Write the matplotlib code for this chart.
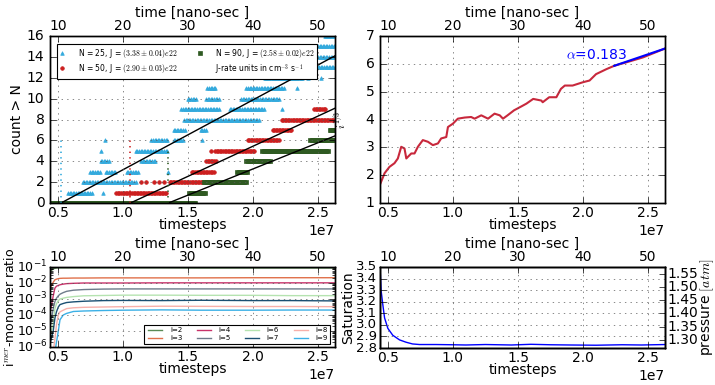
import numpy as np
import matplotlib
matplotlib.use('Agg')
import matplotlib.pyplot as plt

plt.style.use('classic')
plt.rcParams['font.size'] = 10
plt.rcParams['savefig.facecolor'] = 'white'
plt.rcParams['figure.facecolor'] = 'white'

# ---- data: top-left, runs of cluster counts (t_start, t_end, count), t in 1e7 timesteps
runs_25 = [(0.44, 0.66, 0), (0.58, 0.77, 1), (0.85, 0.86, 1), (0.69, 1.10, 2),
           (0.75, 0.83, 3), (0.87, 0.95, 3), (1.03, 1.12, 3), (1.35, 1.36, 3),
           (0.83, 0.90, 4), (1.14, 1.25, 4), (0.83, 0.84, 5), (1.10, 1.35, 5),
           (0.86, 0.87, 6), (1.22, 1.35, 6), (1.39, 1.47, 6), (1.61, 1.62, 6),
           (1.39, 1.48, 7), (1.60, 1.64, 7), (1.47, 2.05, 8),
           (1.45, 1.74, 9), (1.82, 2.09, 9), (2.22, 2.23, 9),
           (1.50, 1.57, 10), (1.64, 1.74, 10), (1.91, 2.20, 10),
           (1.65, 1.72, 11), (1.95, 2.24, 11), (2.34, 2.35, 11),
           (2.09, 2.38, 12), (2.42, 2.43, 12), (2.52, 2.53, 12),
           (2.09, 2.63, 13), (2.50, 2.63, 14), (2.50, 2.63, 15), (2.55, 2.63, 16)]
runs_50 = [(0.95, 1.34, 1), (1.14, 1.15, 2), (1.18, 1.19, 2), (1.24, 1.25, 2),
           (1.28, 1.29, 2), (1.32, 1.33, 2), (1.36, 1.62, 2), (1.53, 1.70, 3),
           (1.64, 1.72, 4), (1.68, 1.69, 5), (1.71, 2.01, 5), (1.96, 2.21, 6),
           (2.15, 2.30, 7), (2.22, 2.63, 8), (2.47, 2.56, 9)]
runs_90 = [(0.44, 1.56, 0), (1.51, 1.64, 1), (1.62, 1.95, 2), (1.88, 1.96, 3),
           (1.95, 2.14, 4), (2.07, 2.58, 5), (2.44, 2.63, 6), (2.59, 2.63, 7)]
fit_start = [0.525, 1.058, 1.35]
fit_end_count = [14.1, 9.08, 6.43]
lag_height = [6, 6, 5]
labels_top = ['N = 25, J = $(3.38 \\pm 0.04) e22$',
              'N = 50, J = $(2.90 \\pm 0.03) e22$',
              'N = 90, J = $(2.58 \\pm 0.02) e22$']

# ---- data: top-right, i^(1/3) vs timesteps
t_i = [0.444, 0.475, 0.513, 0.551, 0.577, 0.603, 0.628, 0.642, 0.68, 0.705, 0.731,
       0.769, 0.808, 0.846, 0.885, 0.91, 0.949, 0.962, 1.0, 1.038, 1.09, 1.14,
       1.167, 1.218, 1.27, 1.32, 1.36, 1.385, 1.42, 1.47, 1.526, 1.565, 1.617,
       1.68, 1.69, 1.74, 1.795, 1.83, 1.86, 1.92, 2.0, 2.05, 2.10, 2.18, 2.24,
       2.33, 2.46, 2.63]
i_third = [1.71, 2.07, 2.30, 2.43, 2.60, 3.02, 2.96, 2.60, 2.78, 2.78, 3.02,
           3.26, 3.20, 3.08, 3.14, 3.32, 3.37, 3.73, 3.85, 4.03, 4.07, 4.09,
           4.03, 4.15, 4.03, 4.21, 4.15, 4.03, 4.15, 4.33, 4.47, 4.57, 4.74,
           4.68, 4.62, 4.80, 4.80, 5.10, 5.22, 5.22, 5.34, 5.40, 5.63, 5.81, 5.93,
           6.05, 6.23, 6.55]
fit_t = [2.24, 2.63]
fit_i = [5.93, 6.55]

# ---- data: bottom-left, log10 of i-mer / monomer ratio
t_r = [0.44, 0.465, 0.478, 0.49, 0.504, 0.517, 0.542, 0.568, 0.62, 0.7, 0.85,
       1.0, 1.3, 1.6, 2.0, 2.3, 2.63]
lr2 = [-1.28, -1.12, -1.08, -1.06, -1.05, -1.05, -1.05, -1.05, -1.05, -1.05, -1.05,
       -1.05, -1.05, -1.06, -1.06, -1.06, -1.06]
lr3 = [-2.33, -1.95, -1.80, -1.76, -1.73, -1.71, -1.70, -1.70, -1.69, -1.69, -1.68,
       -1.68, -1.68, -1.68, -1.67, -1.67, -1.67]
lr4 = [-3.89, -2.80, -2.32, -2.20, -2.15, -2.11, -2.07, -2.04, -2.02, -2.00, -2.00,
       -2.00, -1.99, -1.99, -1.99, -1.99, -1.99]
lr5 = [-4.8, -3.6, -3.16, -2.95, -2.80, -2.70, -2.60, -2.52, -2.45, -2.41, -2.38,
       -2.37, -2.37, -2.37, -2.37, -2.37, -2.37]
lr6 = [-5.5, -4.5, -3.6, -3.3, -3.1, -3.0, -2.95, -2.90, -2.85, -2.80, -2.78,
       -2.76, -2.76, -2.77, -2.77, -2.79, -2.79]
lr7 = [-5.8, -5.0, -4.2, -3.8, -3.5, -3.35, -3.28, -3.22, -3.18, -3.14, -3.10,
       -3.09, -3.10, -3.08, -3.10, -3.10, -3.12]
lr8 = [-6.5, -6.3, -5.5, -4.6, -4.0, -3.8, -3.7, -3.60, -3.55, -3.52, -3.50,
       -3.48, -3.45, -3.46, -3.47, -3.47, -3.48]
lr9 = [-6.5, -6.5, -6.3, -5.7, -5.0, -4.3, -4.0, -3.90, -3.78, -3.75, -3.72,
       -3.70, -3.68, -3.70, -3.70, -3.69, -3.69]
ratio_logs = [lr2, lr3, lr4, lr5, lr6, lr7, lr8, lr9]
ratio_names = ['i=2', 'i=3', 'i=4', 'i=5', 'i=6', 'i=7', 'i=8', 'i=9']
ratio_colors = ['#5a8a55', '#e0704a', '#c8336a', '#6e7b8b',
                '#b5e3b0', '#1b4f72', '#f7b0aa', '#3bb0e6']

# ---- data: bottom-right, saturation
t_s = [0.44, 0.449, 0.462, 0.475, 0.5, 0.538, 0.59, 0.64, 0.69, 0.744, 0.87,
       1.0, 1.1, 1.25, 1.45, 1.6, 1.75, 1.9, 2.1, 2.3, 2.45, 2.63]
sat = [3.50, 3.29, 3.17, 3.06, 2.97, 2.91, 2.87, 2.85, 2.835, 2.83, 2.83,
       2.828, 2.826, 2.83, 2.826, 2.832, 2.828, 2.826, 2.824, 2.828, 2.826, 2.83]

xlo, xhi = 0.44e7, 2.63e7
ns_per_step = 2e-6

fig = plt.figure(figsize=(7.15, 3.85), dpi=100)
ax1 = fig.add_axes([0.0699, 0.4727, 0.3986, 0.4338])
ax2 = fig.add_axes([0.5315, 0.4727, 0.3986, 0.4338])
ax3 = fig.add_axes([0.0699, 0.0987, 0.3986, 0.2078])
ax4 = fig.add_axes([0.5315, 0.0961, 0.3986, 0.2104])


def top_axis(ax):
    axt = ax.twiny()
    axt.set_xlim(xlo * ns_per_step, xhi * ns_per_step)
    axt.set_xticks([10, 20, 30, 40, 50])
    axt.set_xlabel('time [nano-sec ]', fontsize=10, labelpad=2)
    axt.tick_params(labelsize=10, pad=2)
    return axt


def bottom_axis(ax):
    ax.set_xlim(xlo, xhi)
    ax.set_xticks([0.5e7, 1.0e7, 1.5e7, 2.0e7, 2.5e7])
    ax.set_xlabel('timesteps', fontsize=10, labelpad=-1)
    ax.tick_params(axis='x', pad=2)
    ax.grid(True, color='0.35')


# top-left
styles = [('^', '#33aadd'), ('o', '#cc1f1f'), ('s', '#2f5a22')]
handles = []
for runs, (mk, col), lab in zip([runs_25, runs_50, runs_90], styles, labels_top):
    xs, ys = [], []
    for t0, t1, c in runs:
        pts = np.arange(t0, t1 + 1e-9, 0.012)
        xs.extend(pts * 1e7)
        ys.extend([c] * len(pts))
    h, = ax1.plot(xs, ys, ls='none', marker=mk, ms=2.6, mfc=col, mec=col, label=lab)
    handles.append(h)
for (mk, col), t0, c1, hgt in zip(styles, fit_start, fit_end_count, lag_height):
    ax1.plot([t0 * 1e7, xhi], [0, c1], color='k', lw=1)
    ax1.vlines(t0 * 1e7, 0, hgt, colors=col, linestyles=':', lw=1.2)
dummy, = ax1.plot([], [], ls='none', label='J-rate units in cm$^{-3}$ s$^{-1}$')
handles.append(dummy)
leg = ax1.legend(handles=handles, loc='upper left', ncol=2, fontsize=5.5, numpoints=1,
                 handlelength=0.8, handletextpad=1.6, borderpad=0.35,
                 labelspacing=0.3, columnspacing=2.6, bbox_to_anchor=(0.01, 0.975))
leg.get_frame().set_linewidth(0.8)
ax1.set_ylim(0, 16)
ax1.set_yticks(np.arange(0, 17, 2))
ax1.set_ylabel('count > N', fontsize=10, labelpad=2)
bottom_axis(ax1)
top_axis(ax1)

# top-right
ax2.plot(np.array(t_i) * 1e7, i_third, color='#c8283c', lw=1.5)
ax2.plot(np.array(fit_t) * 1e7, fit_i, color='blue', lw=1.5)
ax2.text(1.87e7, 6.3, '$\\alpha$=0.183', color='blue', fontsize=10, va='center')
ax2.set_ylim(1, 7)
ax2.set_ylabel('$i^{1/3}$', fontsize=8, labelpad=13)
bottom_axis(ax2)
top_axis(ax2)

# bottom-left
for lr, name, col in zip(ratio_logs, ratio_names, ratio_colors):
    ax3.plot(np.array(t_r) * 1e7, 10.0 ** np.array(lr), color=col, lw=1, label=name)
ax3.set_yscale('log')
ax3.set_ylim(1e-6, 1e-1)
ax3.tick_params(axis='y', labelsize=9, pad=2)
ax3.set_ylabel('i$^{mer}$-monomer ratio', fontsize=9, labelpad=0)
leg3 = ax3.legend(loc='lower right', ncol=4, fontsize=5, numpoints=2, handlelength=2.6,
                  handletextpad=0.8, borderpad=0.35, labelspacing=0.3,
                  columnspacing=1.8, bbox_to_anchor=(0.995, 0.0))
leg3.get_frame().set_linewidth(0.8)
bottom_axis(ax3)
top_axis(ax3)

# bottom-right
ax4.plot(np.array(t_s) * 1e7, sat, color='blue', lw=1)
ax4.set_ylim(2.8, 3.5)
ax4.set_yticks(np.arange(2.8, 3.51, 0.1))
ax4.tick_params(axis='y', labelsize=9.5, pad=2)
ax4.set_ylabel('Saturation', fontsize=10, labelpad=1)
bottom_axis(ax4)
top_axis(ax4)
axp = ax4.twinx()
axp.set_ylim(1.27, 1.575)
axp.set_yticks([1.30, 1.35, 1.40, 1.45, 1.50, 1.55])
axp.set_ylabel('pressure $[atm]$', fontsize=10, labelpad=0)
axp.tick_params(axis='y', pad=2)

fig.savefig('out.png', dpi=100)
